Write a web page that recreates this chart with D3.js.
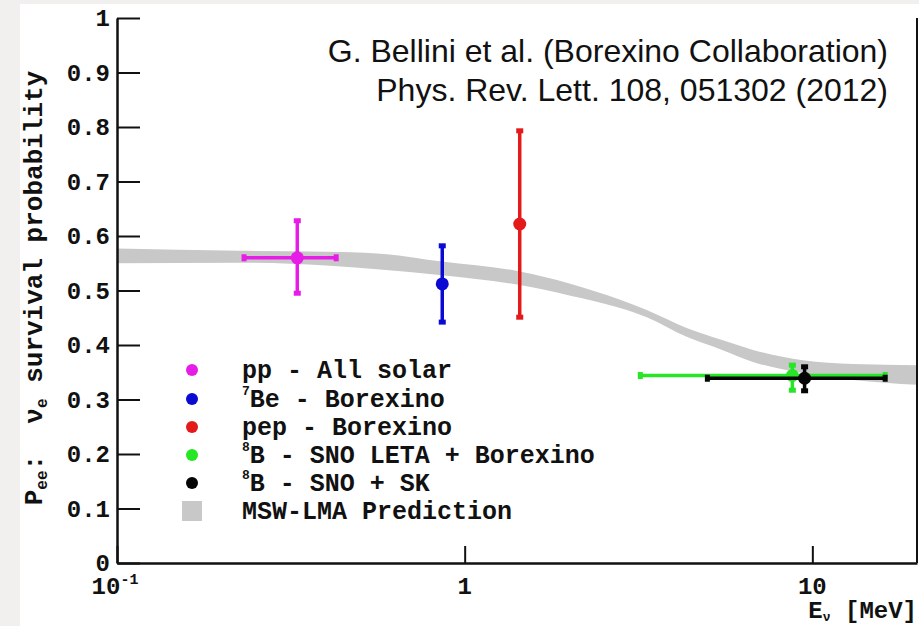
<!DOCTYPE html>
<html lang="en">
<head>
<meta charset="UTF-8">
<title>Solar neutrino survival probability</title>
<script src="https://cdn.jsdelivr.net/npm/d3@7"></script>
<style>
  body { margin: 0; background: #f1f0ef; }
  svg { display: block; }
  .mono { font-family: "Liberation Mono", "DejaVu Sans Mono", monospace; font-weight: bold; fill: #111; }
</style>
</head>
<body>
<svg id="chart" width="919" height="626"></svg>
<script>
// ---- data ----
var names   = ["pp", "Be7", "pep", "B8 LETA", "B8 SNO+SK"];
var colors  = ["#e61de6", "#0a0ad2", "#e41a1a", "#26e626", "#050505"];
var energy  = [0.33, 0.862, 1.44, 8.76, 9.5];
var prob    = [0.560, 0.512, 0.622, 0.344, 0.339];
var probLo  = [0.495, 0.442, 0.451, 0.317, 0.316];
var probHi  = [0.628, 0.582, 0.793, 0.363, 0.360];
var eLo     = [0.232, null, null, 3.2, 4.99];
var eHi     = [0.427, null, null, 16.2, 16.2];

// MSW-LMA prediction band
var bandE     = [0.1, 0.226, 0.4, 0.56, 0.86, 1.44, 2.0, 2.8, 3.34, 4.35, 5.5, 6.75, 9.4, 13.1, 20];
var bandUpper = [0.577, 0.573, 0.571, 0.568, 0.553, 0.535, 0.513, 0.483, 0.464, 0.431, 0.409, 0.391, 0.372, 0.365, 0.363];
var bandLower = [0.550, 0.551, 0.546, 0.539, 0.528, 0.510, 0.491, 0.468, 0.451, 0.415, 0.391, 0.369, 0.348, 0.336, 0.327];

var legendLabels = [
  {sup: "",  text: "pp - All solar"},
  {sup: "7", text: "Be - Borexino"},
  {sup: "",  text: "pep - Borexino"},
  {sup: "8", text: "B - SNO LETA + Borexino"},
  {sup: "8", text: "B - SNO + SK"},
  {sup: "",  text: "MSW-LMA Prediction"}
];

var yMajor = [0, 0.1, 0.2, 0.3, 0.4, 0.5, 0.6, 0.7, 0.8, 0.9, 1];
var yTickLabels = ["0", "0.1", "0.2", "0.3", "0.4", "0.5", "0.6", "0.7", "0.8", "0.9", "1"];
var xMajor = [0.1, 1, 10];
var xTickLabels = [{base: "10", sup: "-1"}, {base: "1", sup: ""}, {base: "10", sup: ""}];
var xMinor = [0.2,0.3,0.4,0.5,0.6,0.7,0.8,0.9,2,3,4,5,6,7,8,9];

// ---- layout ----
var svg = d3.select("#chart");
var L = 117, R = 917, T = 18, B = 563;

svg.append("rect").attr("x", 20).attr("y", 4).attr("width", 899).attr("height", 622).attr("fill", "#fff");

var x = d3.scaleLog().domain([0.1, 20]).range([L, R]);
var y = d3.scaleLinear().domain([0, 1]).range([B, T]);

// band
var band = bandE.map(function(e, i){ return {e: e, lo: bandLower[i], hi: bandUpper[i]}; });
svg.append("path")
  .datum(band)
  .attr("fill", "#c8c8c8")
  .attr("d", d3.area()
    .x(function(d){ return x(d.e); })
    .y0(function(d){ return y(d.lo); })
    .y1(function(d){ return y(d.hi); })
    .curve(d3.curveMonotoneX));

// axes
var yMinor = d3.range(0, 1.0001, 0.02).filter(function(v){ return Math.abs(v*10 - Math.round(v*10)) > 1e-6; });

var gy = svg.append("g").attr("transform", "translate(" + L + ",0)");
gy.call(d3.axisLeft(y).tickValues(yMinor).tickSize(-12).tickSizeOuter(0).tickFormat(""));
gy.call(d3.axisLeft(y).tickValues(yMajor).tickSize(-23).tickSizeOuter(0).tickPadding(7)
  .tickFormat(function(d, i){ return yTickLabels[i]; }));
gy.selectAll("line").attr("stroke", "#111").attr("stroke-width", 2);
gy.selectAll(".domain").attr("stroke", "#111").attr("stroke-width", 2.5);
gy.selectAll("text").attr("class", "mono").style("font-size", "24px");

var gx = svg.append("g").attr("transform", "translate(0," + B + ")");
gx.call(d3.axisBottom(x).tickValues(xMinor).tickSize(-8).tickSizeOuter(0).tickFormat(""));
gx.call(d3.axisBottom(x).tickValues(xMajor).tickSize(-17).tickSizeOuter(0).tickFormat(""));
gx.selectAll("line").attr("stroke", "#111").attr("stroke-width", 2);
gx.selectAll(".domain").attr("stroke", "#111").attr("stroke-width", 2.5);

// right frame line
svg.append("line").attr("x1", R).attr("x2", R).attr("y1", T).attr("y2", B)
  .attr("stroke", "#111").attr("stroke-width", 2);

// x tick labels
xMajor.forEach(function(v, i){
  var t = svg.append("text").attr("class", "mono").style("font-size", "24px")
    .attr("x", x(v) + (i === 0 ? -2 : 0)).attr("y", i === 2 ? 594 : 594)
    .attr("text-anchor", "middle");
  t.append("tspan").text(xTickLabels[i].base);
  if (xTickLabels[i].sup) {
    t.append("tspan").attr("dy", -10).style("font-size", "15px").text(xTickLabels[i].sup);
  }
});

// axis titles
var xt = svg.append("text").attr("class", "mono").style("font-size", "24px")
  .attr("x", 917).attr("y", 618).attr("text-anchor", "end").attr("xml:space", "preserve");
xt.append("tspan").text("E");
xt.append("tspan").attr("dy", 3).style("font-size", "13px").text("\u03bd");
xt.append("tspan").attr("dy", -3).text(" [MeV]");

var yt = svg.append("text").attr("class", "mono").style("font-size", "26px")
  .attr("transform", "translate(42,288) rotate(-90)")
  .attr("text-anchor", "middle").attr("xml:space", "preserve");
yt.append("tspan").text("P");
yt.append("tspan").attr("dy", 5).style("font-size", "16px").text("ee");
yt.append("tspan").attr("dy", -5).text(":  \u03bd");
yt.append("tspan").attr("dy", 5).style("font-size", "16px").text("e");
yt.append("tspan").attr("dy", -5).text(" survival probability");

// data points with error bars
var pts = names.map(function(n, i){
  return {name: n, color: colors[i], e: energy[i], p: prob[i], lo: probLo[i], hi: probHi[i], eLo: eLo[i], eHi: eHi[i]};
});
var g = svg.append("g").selectAll("g").data(pts).enter().append("g");

g.filter(function(d){ return d.eLo !== null; }).append("line")
  .attr("x1", function(d){ return x(d.eLo); }).attr("x2", function(d){ return x(d.eHi); })
  .attr("y1", function(d){ return y(d.p); }).attr("y2", function(d){ return y(d.p); })
  .attr("stroke", function(d){ return d.color; }).attr("stroke-width", 3.5);
g.filter(function(d){ return d.eLo !== null; }).selectAll(".hcap")
  .data(function(d){ return [{v: d.eLo, d: d}, {v: d.eHi, d: d}]; }).enter().append("rect")
  .attr("x", function(c){ return x(c.v) - 2.5; }).attr("y", function(c){ return y(c.d.p) - 3.5; })
  .attr("width", 5).attr("height", 7).attr("fill", function(c){ return c.d.color; });

g.append("line")
  .attr("x1", function(d){ return x(d.e); }).attr("x2", function(d){ return x(d.e); })
  .attr("y1", function(d){ return y(d.lo); }).attr("y2", function(d){ return y(d.hi); })
  .attr("stroke", function(d){ return d.color; }).attr("stroke-width", 3.5);
g.selectAll(".vcap")
  .data(function(d){ return [{v: d.lo, d: d}, {v: d.hi, d: d}]; }).enter().append("rect")
  .attr("x", function(c){ return x(c.d.e) - 3.5; }).attr("y", function(c){ return y(c.v) - 2.5; })
  .attr("width", 7).attr("height", 5).attr("fill", function(c){ return c.d.color; });

g.append("circle")
  .attr("cx", function(d){ return x(d.e); }).attr("cy", function(d){ return y(d.p); })
  .attr("r", 6.5).attr("fill", function(d){ return d.color; });

// legend
var legY = [370, 399, 427, 455, 483, 511];
legendLabels.forEach(function(lab, i){
  if (i < 5) {
    svg.append("circle").attr("cx", 192).attr("cy", legY[i]).attr("r", 6).attr("fill", colors[i]);
  } else {
    svg.append("rect").attr("x", 182).attr("y", legY[i] - 10).attr("width", 20).attr("height", 20).attr("fill", "#c8c8c8");
  }
  var t = svg.append("text").attr("class", "mono").style("font-size", "25px")
    .attr("x", 242).attr("y", legY[i] + 8).attr("xml:space", "preserve");
  if (lab.sup) {
    t.append("tspan").attr("dy", -12).style("font-size", "13px").text(lab.sup);
    t.append("tspan").attr("dy", 12).text(lab.text);
  } else {
    t.append("tspan").text(lab.text);
  }
});

// reference note
var note = svg.append("g").style("font-family", "'Liberation Sans', Arial, sans-serif").style("font-size", "32px").style("fill", "#111");
note.append("text").attr("x", 888).attr("y", 62).attr("text-anchor", "end").text("G. Bellini et al. (Borexino Collaboration)");
note.append("text").attr("x", 888).attr("y", 101).attr("text-anchor", "end").text("Phys. Rev. Lett. 108, 051302 (2012)");
</script>
</body>
</html>
